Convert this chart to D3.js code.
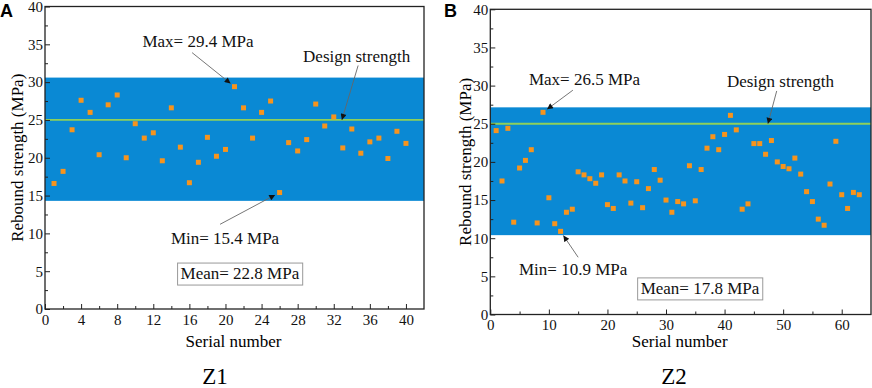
<!DOCTYPE html>
<html>
<head>
<meta charset="utf-8">
<script src="https://cdn.jsdelivr.net/npm/d3@7"></script>
<style>
  body { margin: 0; background: #fff; }
  svg { display: block; }
  svg text { font-family: "Liberation Serif", "Times New Roman", serif; }
  svg text.letter { font-family: "Liberation Sans", Arial, sans-serif; font-weight: bold; }
</style>
</head>
<body>
<div id="chart"></div>
<script>
// ---- data ----
const serialZ1 = d3.range(1, 41);
const strengthZ1 = [16.6, 18.2, 23.7, 27.6, 26.0, 20.4, 27.0, 28.3, 20.0, 24.5,
                    22.6, 23.3, 19.6, 26.6, 21.4, 16.7, 19.4, 22.7, 20.2, 21.1,
                    29.4, 26.6, 22.6, 26.0, 27.5, 15.4, 22.0, 20.9, 22.4, 27.1,
                    24.2, 25.4, 21.3, 23.8, 20.6, 22.1, 22.6, 19.9, 23.5, 21.9];
const serialZ2 = d3.range(1, 64);
const strengthZ2 = [24.1, 17.5, 24.4, 12.1, 19.2, 20.2, 21.6, 12.0, 26.5, 15.3,
                    11.9, 10.9, 13.4, 13.8, 18.7, 18.3, 17.8, 17.2, 18.3, 14.4,
                    13.9, 18.3, 17.5, 14.6, 17.4, 14.0, 16.5, 19.0, 17.6, 15.0,
                    13.4, 14.8, 14.5, 19.5, 14.9, 19.0, 21.8, 23.3, 21.6, 23.6,
                    26.1, 24.2, 13.8, 14.5, 22.4, 22.4, 21.0, 22.8, 20.0, 19.4,
                    19.1, 20.5, 18.4, 16.1, 14.8, 12.5, 11.7, 17.1, 22.7, 15.7,
                    13.9, 16.0, 15.7];
const bandZ1 = [14.3, 30.6];
const bandZ2 = [10.4, 27.15];
const designStrength = 25;
const statsZ1 = { max: 29.4, min: 15.4, mean: 22.8 };
const statsZ2 = { max: 26.5, min: 10.9, mean: 17.8 };
const yTicks = d3.range(0, 41, 5);
const xTicksZ1 = d3.range(0, 41, 4);
const xTicksZ2 = d3.range(0, 61, 10);

const W = 872, H = 388;

const svg = d3.select("#chart").append("svg")
    .attr("width", W).attr("height", H);
svg.append("rect").attr("width", W).attr("height", H).attr("fill", "#fff");

svg.append("defs").append("marker")
    .attr("id", "arrow")
    .attr("viewBox", "0 0 10 10")
    .attr("refX", 10).attr("refY", 5)
    .attr("markerWidth", 8).attr("markerHeight", 6)
    .attr("markerUnits", "userSpaceOnUse")
    .attr("orient", "auto")
    .append("path").attr("d", "M0,0 L10,5 L0,10 z").attr("fill", "#111");

function drawPanel(cfg) {
    const x = d3.scaleLinear().domain(cfg.xDomain).range([cfg.left, cfg.right]);
    const y = d3.scaleLinear().domain([0, 40]).range([cfg.bottom, cfg.top]);
    const g = svg.append("g");

    // band + design line
    g.append("rect")
        .attr("x", x(cfg.xDomain[0])).attr("width", x(cfg.xDomain[1]) - x(cfg.xDomain[0]))
        .attr("y", y(cfg.band[1])).attr("height", y(cfg.band[0]) - y(cfg.band[1]))
        .attr("fill", "#0a89d4");
    g.append("line")
        .attr("x1", x(cfg.xDomain[0])).attr("x2", x(cfg.xDomain[1]))
        .attr("y1", y(designStrength)).attr("y2", y(designStrength))
        .attr("stroke", "#8fd05a").attr("stroke-width", 1.8);

    // points
    g.selectAll("rect.pt")
        .data(cfg.serial.map((s, i) => [s, cfg.values[i]]))
        .enter().append("rect")
        .attr("class", "pt")
        .attr("x", d => x(d[0]) - 2.5).attr("y", d => y(d[1]) - 2.5)
        .attr("width", 5).attr("height", 5)
        .attr("fill", "#f7941d");

    // axes (ticks inside)
    g.append("g").attr("transform", `translate(0,${cfg.bottom})`)
        .call(d3.axisBottom(x).tickValues(cfg.xTicks).tickSize(-5).tickPadding(5));
    g.append("g").attr("transform", `translate(0,${cfg.bottom})`)
        .call(d3.axisBottom(x).tickValues(cfg.xMinor).tickSize(-3).tickFormat(""));
    g.append("g").attr("transform", `translate(${cfg.left},0)`)
        .call(d3.axisLeft(y).tickValues(yTicks).tickSize(-5).tickPadding(2));
    g.append("g").attr("transform", `translate(${cfg.left},0)`)
        .call(d3.axisLeft(y).tickValues(d3.range(2.5, 40, 5)).tickSize(-3).tickFormat(""));
    g.selectAll(".domain").remove();
    g.selectAll(".tick line").attr("stroke", "#222");
    g.selectAll(".tick text")
        .style("font-size", "15px").attr("fill", "#111");

    // frame
    g.append("rect")
        .attr("x", cfg.left).attr("y", cfg.top)
        .attr("width", cfg.right - cfg.left).attr("height", cfg.bottom - cfg.top)
        .attr("fill", "none").attr("stroke", "#222").attr("stroke-width", 1.3);

    // axis titles
    g.append("text")
        .attr("x", (cfg.left + cfg.right) / 2 - 1).attr("y", 347)
        .attr("text-anchor", "middle").style("font-size", "17px")
        .text("Serial number");
    g.append("text")
        .attr("transform", `translate(${cfg.yLabelX},${(cfg.top + cfg.bottom) / 2}) rotate(-90)`)
        .attr("text-anchor", "middle").style("font-size", "17px")
        .text("Rebound strength (MPa)");
    g.append("text")
        .attr("x", cfg.captionX).attr("y", 384)
        .attr("text-anchor", "middle").style("font-size", "23px")
        .text(cfg.caption);
    g.append("text")
        .attr("class", "letter")
        .attr("x", cfg.letterX).attr("y", 17)
        .style("font-size", "18px")
        .text(cfg.letter);

    // annotations
    const iMax = cfg.values.indexOf(cfg.stats.max);
    const iMin = cfg.values.indexOf(cfg.stats.min);
    const notes = [
        { text: `Max= ${cfg.stats.max} MPa`, at: cfg.maxText, from: cfg.maxFrom,
          to: [x(cfg.serial[iMax]), y(cfg.stats.max)], gap: 5 },
        { text: "Design strength", at: cfg.designText, from: cfg.designFrom,
          to: [x(cfg.designTo), y(designStrength)], gap: 0 },
        { text: `Min= ${cfg.stats.min} MPa`, at: cfg.minText, from: cfg.minFrom,
          to: [x(cfg.serial[iMin]), y(cfg.stats.min)], gap: 5 }
    ];
    notes.forEach(n => {
        g.append("text")
            .attr("x", x(n.at[0])).attr("y", y(n.at[1]))
            .style("font-size", "17px").attr("fill", "#111")
            .text(n.text);
        const x0 = x(n.from[0]), y0 = y(n.from[1]);
        const dx = n.to[0] - x0, dy = n.to[1] - y0;
        const len = Math.hypot(dx, dy);
        g.append("line")
            .attr("x1", x0).attr("y1", y0)
            .attr("x2", x0 + dx * (len - n.gap) / len)
            .attr("y2", y0 + dy * (len - n.gap) / len)
            .attr("stroke", "#666").attr("stroke-width", 0.9)
            .attr("marker-end", "url(#arrow)");
    });

    // mean box
    const meanBox = g.append("rect");
    const mt = g.append("text")
        .attr("x", x(cfg.meanAt[0])).attr("y", y(cfg.meanAt[1]))
        .attr("text-anchor", "middle").style("font-size", "17px").attr("fill", "#111")
        .text(`Mean= ${cfg.stats.mean} MPa`);
    const bb = mt.node().getBBox();
    meanBox
        .attr("x", bb.x - 3).attr("y", bb.y - 1)
        .attr("width", bb.width + 6).attr("height", bb.height + 3)
        .attr("fill", "#fff").attr("stroke", "#999").attr("stroke-width", 1);
}

drawPanel({
    letter: "A", letterX: 0, caption: "Z1", captionX: 215,
    left: 45, right: 424, top: 6.5, bottom: 309, yLabelX: 23,
    xDomain: [0, 42], xTicks: xTicksZ1, xMinor: d3.range(2, 42, 4),
    serial: serialZ1, values: strengthZ1, band: bandZ1, stats: statsZ1,
    maxText: [10.8, 34.6], maxFrom: [16.3, 33.9],
    designText: [28.6, 32.6], designFrom: [34.7, 32.2], designTo: 32.9,
    minText: [13.95, 8.6], minFrom: [19.4, 11.2],
    meanAt: [21.6, 3.96]
});

drawPanel({
    letter: "B", letterX: 444, caption: "Z2", captionX: 674,
    left: 490.3, right: 871, top: 9.3, bottom: 314.5, yLabelX: 471,
    xDomain: [0, 65], xTicks: xTicksZ2, xMinor: d3.range(5, 65, 10),
    serial: serialZ2, values: strengthZ2, band: bandZ2, stats: statsZ2,
    maxText: [6.6, 30.1], maxFrom: [14.1, 29.4],
    designText: [40.4, 29.8], designFrom: [48.9, 29.3], designTo: 47.4,
    minText: [4.9, 5.2], minFrom: [15, 7.5],
    meanAt: [35.8, 2.7]
});
</script>
</body>
</html>
